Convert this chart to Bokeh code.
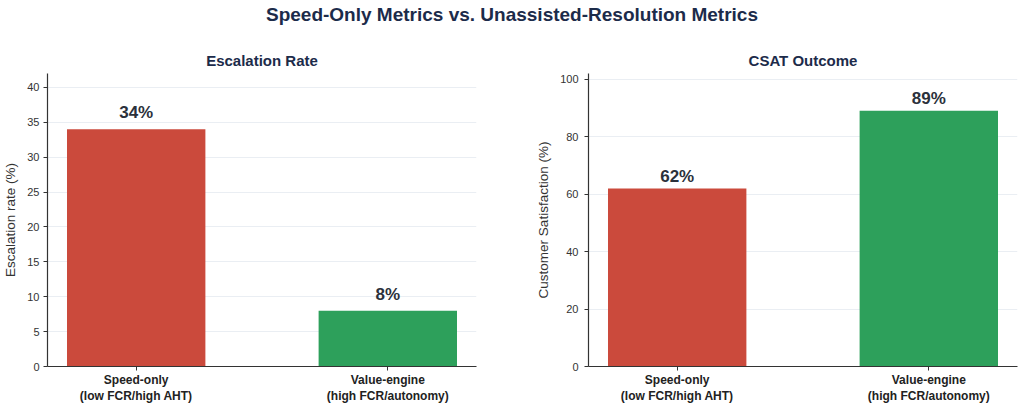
from bokeh.plotting import figure
from bokeh.models import ColumnDataSource, Div, Range1d, FixedTicker
from bokeh.layouts import column, row
from bokeh.embed import file_html
from bokeh.resources import INLINE
from bokeh.core.properties import value

# Data
categories = ["Speed-only\n(low FCR/high AHT)", "Value-engine\n(high FCR/autonomy)"]
escalation_rate = [34, 8]
csat_score = [62, 89]
bar_colors = ["#cb4a3c", "#2da05b"]
escalation_ticks = [0, 5, 10, 15, 20, 25, 30, 35, 40]
csat_ticks = [0, 20, 40, 60, 80, 100]

FONT = "Liberation Sans"
NAVY = "#1c2b4a"
INK = "#333333"


def bar_panel(title, ylabel, values, yticks, ymax, border_left, border_right, tick_standoff):
    xs = list(range(len(values)))
    src = ColumnDataSource(dict(
        x=xs,
        top=values,
        color=bar_colors,
        label=[f"{v}%" for v in values],
        label_y=[v + 1 for v in values],
    ))
    p = figure(
        width=512, height=366,
        x_range=Range1d(-0.3525, 1.3525), y_range=Range1d(0, ymax),
        output_backend="svg", toolbar_location=None,
        min_border_left=border_left, min_border_right=border_right,
        min_border_top=33, min_border_bottom=40,
        title=title, margin=0,
    )
    p.title.align = "center"
    p.title.text_font = FONT
    p.title.text_font_size = "15px"
    p.title.text_font_style = "bold"
    p.title.text_color = NAVY
    p.title.standoff = 9
    p.outline_line_color = None

    p.vbar(x="x", top="top", width=0.55, fill_color="color", line_color=None, source=src)
    p.text(x="x", y="label_y", text="label", source=src,
           text_align="center", text_baseline="bottom",
           text_font=value(FONT), text_font_size="17px", text_font_style="bold",
           text_color="#2b313b")

    p.xgrid.visible = False
    p.ygrid.ticker = FixedTicker(ticks=yticks)
    p.ygrid.grid_line_color = "#eaeef3"
    p.ygrid.grid_line_width = 1

    p.xaxis.ticker = FixedTicker(ticks=xs)
    p.xaxis.major_label_overrides = {i: c for i, c in enumerate(categories)}
    p.xaxis.major_label_text_font = FONT
    p.xaxis.major_label_text_font_size = "12px"
    p.xaxis.major_label_text_font_style = "bold"
    p.xaxis.major_label_text_color = "#222222"
    p.xaxis.major_label_standoff = 2

    p.yaxis.ticker = FixedTicker(ticks=yticks)
    p.yaxis.major_label_text_font = FONT
    p.yaxis.major_label_text_font_size = "11px"
    p.yaxis.major_label_text_color = INK
    p.yaxis.major_label_standoff = tick_standoff
    p.yaxis.axis_label = ylabel
    p.yaxis.axis_label_text_font = FONT
    p.yaxis.axis_label_text_font_size = "13.5px"
    p.yaxis.axis_label_text_font_style = "normal"
    p.yaxis.axis_label_text_color = INK
    p.yaxis.axis_label_standoff = 6

    for ax in (p.xaxis, p.yaxis):
        ax.axis_line_color = INK
        ax.axis_line_width = 1.2
        ax.major_tick_line_color = INK
        ax.major_tick_in = 0
        ax.major_tick_out = 4
        ax.minor_tick_line_color = None
    return p


left = bar_panel("Escalation Rate", "Escalation rate (%)", escalation_rate,
                 escalation_ticks, 42, 45, 36, 4)
right = bar_panel("CSAT Outcome", "Customer Satisfaction (%)", csat_score,
                  csat_ticks, 102, 76, 7, 6)

header = Div(
    text="Speed-Only Metrics vs. Unassisted-Resolution Metrics",
    width=1024, height=40, margin=0,
    styles={
        "font-family": FONT, "font-size": "19px", "font-weight": "bold",
        "color": NAVY, "text-align": "center", "width": "1024px",
        "line-height": "30px",
    },
)

layout = column(header, row(left, right, spacing=0), spacing=0)
open("out.html", "w").write(file_html(layout, INLINE))
